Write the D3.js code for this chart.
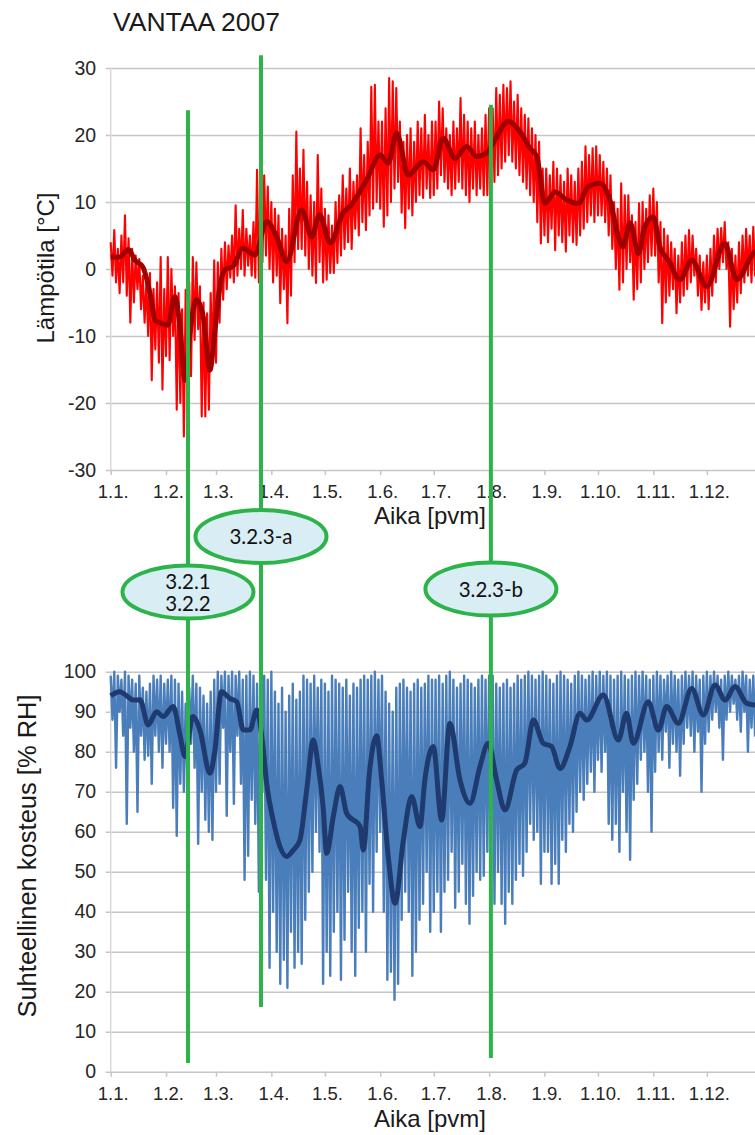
<!DOCTYPE html>
<html><head><meta charset="utf-8">
<script src="https://cdn.jsdelivr.net/npm/d3@7"></script>
<style>
html,body{margin:0;padding:0;background:#fff;overflow:hidden;}
svg{display:block;}
</style></head><body>
<svg id="chart" width="755" height="1135"></svg>
<script>
// ---------- axes / categories ----------
const monthStartDays = [0, 31, 59, 90, 120, 151, 181, 212, 243, 273, 304, 334];
const monthLabels = ["1.1.", "1.2.", "1.3.", "1.4.", "1.5.", "1.6.", "1.7.", "1.8.", "1.9.", "1.10.", "1.11.", "1.12."];
const tempTicks = [-30, -20, -10, 0, 10, 20, 30];
const rhTicks = [0, 10, 20, 30, 40, 50, 60, 70, 80, 90, 100];

// ---------- raw temperature: high / low every 2 days ----------
const tempHigh = [
  4, 5.8, 3, 5, 8, 4.6, 3, 2, 1.5, -1, -2, -0.6, -3, -2, 1.8, -3,
  1.8, 0, -2.6, -3.6, -6, -3.1, -2, 1.8, 1, -2.6, -5, -6.6, -3.6, 1.3,
  1, 3, 4, 3.5, 5, 9.5, 6, 8.8, 6, 5, 7, 14.8, 12, 14, 12.3, 10,
  9, 8, 6, 5, 9, 14, 20.5, 15, 17.8, 13, 11, 10, 17, 12,
  9, 8, 6.5, 10, 11, 14, 12, 15, 13, 14, 21, 17, 19, 27.2, 27.5, 22,
  22, 24, 28.5, 28, 27, 22, 19, 20, 21, 19, 22, 21, 23, 20, 22,
  22, 25, 24, 21, 20, 22, 21, 25.5, 23, 22, 21, 22, 20, 21, 23, 24,
  24, 27, 26, 27.5, 27, 28, 25, 26, 24, 23, 22.5, 21, 20, 19, 15,
  15, 14, 16, 15, 14, 13, 15, 14, 13, 15, 16, 18.3, 17, 18, 18.3,
  17, 16, 15, 14, 10, 9, 12.8, 11, 11, 8, 7, 9.8, 10, 9, 11,
  12, 10, 7, 6, 5, 4, 3, 2, 4, 5, 5.8, 5, 3, 2, 1,
  2, 3, 5, 6, 6.1, 7, 4, 3, 2, 4, 5, 6, 5, 6.3, 5, 6
];
const tempLow = [
  -1, -2, -3.6, -2, -4, -8, -5, -3, -6, -8, -10, -16.6, -12, -14, -18, -13,
  -13.6, -10, -21, -20, -25, -17, -16, -10.6, -9, -22, -22, -21, -14, -14,
  -8, -4.6, -3, -1.3, -2, -1, 0, -1, 0.5, -1, -1.3, -2, 1, 2, 0, -2,
  -1, -5.1, -3, -8.1, -4, 1, 3, 3, 2, 0, -1, -2.1, 1, -2,
  -1.6, -0.6, -0.6, 0.9, 2, 3, 4, 3, 6, 5, 7, 5.8, 8, 9, 10, 9,
  6.3, 8, 10, 12, 13, 8.4, 6.1, 9, 8, 10, 11, 10.6, 12, 10.6, 11,
  12, 14, 13, 12, 11, 12, 13, 12, 11, 10, 12, 11, 12, 11, 11, 13,
  13, 14, 15, 16, 17, 16, 15, 14, 13, 12, 11, 10, 7, 3.8, 5,
  4, 6, 2.8, 5, 4, 2.6, 5, 4, 3.6, 5, 6, 7, 8, 7, 8,
  8, 7, 5, 3, 0, -3.1, -2, 0, 1, -4.6, -3, -2, 0, 1, 2,
  2, -2, -8.1, -5, -4, -3, -6.6, -5, -4, -3, -2, -1, -4, -6.1, -5,
  -6, -4, -2, 0, 1, 0, -8.6, -6, -5, -3.6, -2, -1, -2, -1, 0, -1
];

// ---------- smoothed temperature ----------
const tempSmoothDay = [0, 5, 10, 13.6, 18, 22, 24.8, 28.5, 32, 36, 38.8, 41.6, 44.4, 48, 51.8, 55.6, 58.4, 61.2, 64, 68.5,
  74, 80.8, 87.4, 93, 98.6, 107, 112.6, 117, 123, 130, 134, 143.4, 151, 155.5, 160.2, 166.7, 175, 180.7, 186.3, 192.9,
  199.4, 205, 210.6, 214.3, 222.7, 229.3, 235, 238.7, 243.3, 249, 255.5, 262, 267.6, 274, 279.7, 284.4, 287, 291, 295.6, 299.3,
  304, 307.7, 312.4, 319, 325.5, 334, 344, 350.7, 360, 365];
const tempSmoothVal = [1.8, 1.8, 2.9, 1.3, 0.3, -3.6, -7.6, -8.1, -8.4, -4.1, -8.6, -16.6, -9.6, -4.6, -7.1, -15.1, -9.1, -2.6, -0.1, 0.4,
  3.1, 2.1, 7.1, 4.8, 1.1, 8.8, 4.8, 8.1, 3.9, 8.3, 9.3, 13.3, 17.0, 15.8, 20.3, 14.0, 16.0, 14.8, 19.5, 16.5,
  18.3, 16.8, 17.3, 18.8, 22.0, 20.5, 18.0, 16.8, 9.8, 11.5, 10.3, 9.8, 12.3, 12.8, 10.3, 4.8, 3.3, 6.9, 2.3, 6.3,
  7.8, 3.3, 1.3, -1.6, 1.3, -2.6, 3.8, -1.6, 2.3, 3];

// ---------- raw relative humidity: high / low every 2 days ----------
const rhHigh = [
  99, 100, 99, 98, 100, 99, 98, 97, 99, 96, 95, 97, 99, 98, 99, 97,
  98, 99, 98, 97, 95, 92, 96, 99, 97, 96, 94, 92, 95, 98,
  100, 99, 100, 99, 100, 99, 100, 98, 99, 100, 99, 97, 100, 99, 98, 100,
  95, 92, 96, 90, 94, 97, 93, 95, 99, 98, 97, 99, 96, 98,
  97, 95, 99, 98, 97, 96, 98, 94, 97, 96, 98, 99, 98, 99, 100, 98,
  99, 95, 92, 90, 96, 97, 98, 96, 95, 97, 98, 96, 97, 99, 98,
  98, 99, 97, 99, 100, 98, 96, 97, 99, 98, 97, 96, 98, 99, 98, 99,
  99, 97, 96, 97, 98, 96, 97, 99, 98, 99, 100, 99, 98, 99, 100,
  99, 98, 97, 99, 100, 99, 98, 97, 99, 100, 99, 98, 99, 100, 99,
  100, 99, 100, 99, 98, 99, 100, 99, 98, 99, 100, 99, 100, 99, 98,
  99, 100, 99, 98, 99, 100, 99, 98, 99, 100, 99, 100, 99, 98, 99,
  100, 99, 100, 99, 98, 99, 100, 99, 98, 99, 100, 99, 98, 99, 100, 99
];
const rhLow = [
  88, 76, 90, 84, 62, 86, 80, 65, 84, 78, 79, 72, 84, 80, 76, 82,
  80, 66, 59, 72, 70, 73, 82, 76, 57, 70, 63, 60, 58, 70,
  72, 86, 64, 80, 67, 84, 72, 48, 54, 68, 62, 45, 70, 48, 26, 40,
  30, 22, 28, 21, 35, 26, 30, 27, 38, 45, 50, 60, 55, 22,
  30, 24, 35, 40, 23, 33, 45, 30, 24, 36, 40, 30, 47, 40, 55, 60,
  40, 23, 25, 18, 22, 38, 45, 40, 24, 30, 38, 42, 50, 35, 40,
  45, 35, 45, 48, 55, 41, 45, 52, 42, 37, 44, 50, 48, 49, 55, 60,
  42, 50, 42, 37, 45, 42, 48, 52, 49, 55, 62, 58, 60, 47, 55,
  55, 47, 52, 47, 58, 55, 62, 60, 65, 70, 68, 72, 75, 70, 78,
  75, 80, 62, 58, 62, 55, 70, 60, 53, 68, 72, 78, 80, 70, 60,
  75, 80, 78, 85, 76, 82, 80, 74, 82, 86, 84, 80, 85, 70, 82,
  85, 88, 90, 86, 78, 88, 90, 92, 88, 85, 90, 80, 86, 84, 88, 86
];

// ---------- smoothed relative humidity ----------
const rhSmoothDay = [0, 5, 10, 12.7, 16.4, 21, 25.7, 29.4, 35, 38.8, 41.6, 46, 50, 55.6, 58.4, 62, 66.8, 70.6, 74.3, 78,
  81.8, 85.5, 87.4, 91, 94.8, 98.6, 102.3, 106, 109.8, 113.5, 116.3, 119, 121, 124.7, 128.5, 132.2, 139.7, 141.5, 145, 149,
  151.8, 155.5, 159.3, 164, 168.6, 173.3, 176, 180.7, 185.4, 190, 195.7, 201.3, 206.9, 211.5, 216.2, 220.9, 227.4, 232, 236.8, 242.3,
  247, 251.7, 257.3, 262.9, 266.7, 276, 284.4, 289, 292.8, 301.2, 306.8, 311.5, 318, 325.5, 332, 338.6, 344.2, 349.8, 356.3, 361, 365];
const rhSmoothVal = [94, 95, 93.6, 92.9, 93, 86.7, 90, 88.8, 91.3, 84.2, 78.8, 88.8, 85.4, 74.6, 80.4, 95, 93.3, 92.5, 85.4, 85.4,
  90.4, 80.4, 72, 62.9, 56.3, 53.8, 55.4, 57.9, 70.4, 82.9, 76.3, 66.3, 54.6, 63.8, 71.3, 64.6, 61.3, 55.4, 75, 84,
  72.9, 53.8, 42.1, 58, 68.8, 61.3, 72.9, 81.3, 62.9, 87.1, 72.9, 67.1, 76.3, 82.1, 72.9, 65.4, 75.4, 77.1, 87.9, 82.1,
  81.3, 75.8, 81.3, 89.6, 87.9, 94.2, 82.9, 89.6, 82.1, 92.5, 85.4, 91.3, 87.1, 95.8, 89.2, 96.7, 92.9, 96.3, 92.1, 91.7, 92];

// ---------- annotations ----------
const markerLabels = [["3.2.1", "3.2.2"], ["3.2.3-a"], ["3.2.3-b"]];
const markerDay = [43.3, 84.2, 213];
const markerTopTemp = [23.7, 31.9, 24.5];
const markerBottomRH = [2.2, 16.2, 3.4];

// ================= drawing =================
const svg = d3.select("#chart");
const FONT = "'Liberation Sans', Arial, sans-serif";
const x = d3.scaleLinear().domain([0, 365]).range([110.7, 762.2]);
const plotW = x(365) - x(0);
const yT = d3.scaleLinear().domain([-30, 30]).range([470, 68]);
const yR = d3.scaleLinear().domain([0, 100]).range([1071.7, 671.7]);

function zig(hi, lo) {
  const pts = [];
  hi.forEach((h, i) => { pts.push([i * 2, h]); pts.push([i * 2 + 1, lo[i]]); });
  return pts;
}

function panel(y, ticks, bottomVal, rawPts, smoothDays, smoothVals, rawColor, smoothColor, rawWidth) {
  const g = svg.append("g");
  const ya = d3.axisLeft(y).tickValues(ticks).tickSize(plotW + 5).tickPadding(9.5).tickFormat(d => String(d));
  const ag = g.append("g").attr("transform", `translate(${x(365)},0)`).call(ya);
  ag.select(".domain").remove();
  ag.selectAll(".tick line").attr("stroke", "#c6c6c6").attr("stroke-width", 1.6);
  ag.selectAll(".tick text").attr("font-family", FONT).attr("font-size", 19.5).attr("fill", "#262626");
  g.append("line").attr("x1", x(0)).attr("x2", x(0)).attr("y1", y(ticks[ticks.length - 1])).attr("y2", y(bottomVal))
    .attr("stroke", "#d9d9d9").attr("stroke-width", 1.5);
  const xa = d3.axisBottom(x).tickValues(monthStartDays).tickSize(5).tickPadding(10)
    .tickFormat((d, i) => monthLabels[i]);
  const xg = g.append("g").attr("transform", `translate(0,${y(bottomVal)})`).call(xa);
  xg.select(".domain").remove();
  xg.selectAll(".tick line").attr("stroke", "#c6c6c6").attr("stroke-width", 1.5);
  xg.selectAll(".tick text").attr("font-family", FONT).attr("font-size", 18.5).attr("fill", "#262626")
    .attr("dx", "2");
  g.append("path").datum(rawPts)
    .attr("d", d3.line().x(d => x(d[0])).y(d => y(d[1])))
    .attr("fill", "none").attr("stroke", rawColor).attr("stroke-width", rawWidth).attr("stroke-linejoin", "round");
  g.append("path").datum(smoothDays.map((d, i) => [d, smoothVals[i]]))
    .attr("d", d3.line().x(d => x(d[0])).y(d => y(d[1])).curve(d3.curveMonotoneX))
    .attr("fill", "none").attr("stroke", smoothColor).attr("stroke-width", 5).attr("stroke-linejoin", "round");
  return g;
}

panel(yT, tempTicks, -30, zig(tempHigh, tempLow), tempSmoothDay, tempSmoothVal, "#ff0000", "#a00000", 2.1);
panel(yR, rhTicks, 0, zig(rhHigh, rhLow), rhSmoothDay, rhSmoothVal, "#4a7ebb", "#1f3a6e", 2.4);

// titles
svg.append("text").attr("x", 113).attr("y", 31).text("VANTAA 2007")
  .attr("font-family", FONT).attr("font-size", 26.5).attr("fill", "#1a1a1a");
svg.append("text").attr("x", 430).attr("y", 524).attr("text-anchor", "middle").text("Aika [pvm]")
  .attr("font-family", FONT).attr("font-size", 24).attr("fill", "#1a1a1a");
svg.append("text").attr("x", 430).attr("y", 1127).attr("text-anchor", "middle").text("Aika [pvm]")
  .attr("font-family", FONT).attr("font-size", 24).attr("fill", "#1a1a1a");
svg.append("text").attr("transform", "translate(54,268) rotate(-90)").attr("text-anchor", "middle")
  .text("Lämpötila [°C]").attr("font-family", FONT).attr("font-size", 24).attr("fill", "#1a1a1a");
svg.append("text").attr("transform", "translate(36,856) rotate(-90)").attr("text-anchor", "middle")
  .text("Suhteellinen kosteus [% RH]").attr("font-family", FONT).attr("font-size", 25.5).attr("fill", "#1a1a1a");

// green marker lines
const GREEN = "#2cb34a";
markerDay.forEach((d, i) => {
  svg.append("line").attr("x1", x(d)).attr("x2", x(d))
    .attr("y1", yT(markerTopTemp[i])).attr("y2", yR(markerBottomRH[i]))
    .attr("stroke", GREEN).attr("stroke-width", 4);
});
const ellipseCy = [592, 536.5, 589];
markerDay.forEach((d, i) => {
  const cx = x(d), cy = ellipseCy[i];
  svg.append("ellipse").attr("cx", cx).attr("cy", cy).attr("rx", 65.5).attr("ry", 26.5)
    .attr("fill", "#d8eef4").attr("stroke", GREEN).attr("stroke-width", 4);
  const lines = markerLabels[i];
  lines.forEach((t, j) => {
    const base = cy + 7.5 + (j - (lines.length - 1) / 2) * 22;
    svg.append("text").attr("x", cx).attr("y", base).attr("text-anchor", "middle").text(t)
      .attr("font-family", "Lato, 'Open Sans', sans-serif").attr("font-size", 20.5).attr("fill", "#111");
  });
});
</script>
</body></html>
